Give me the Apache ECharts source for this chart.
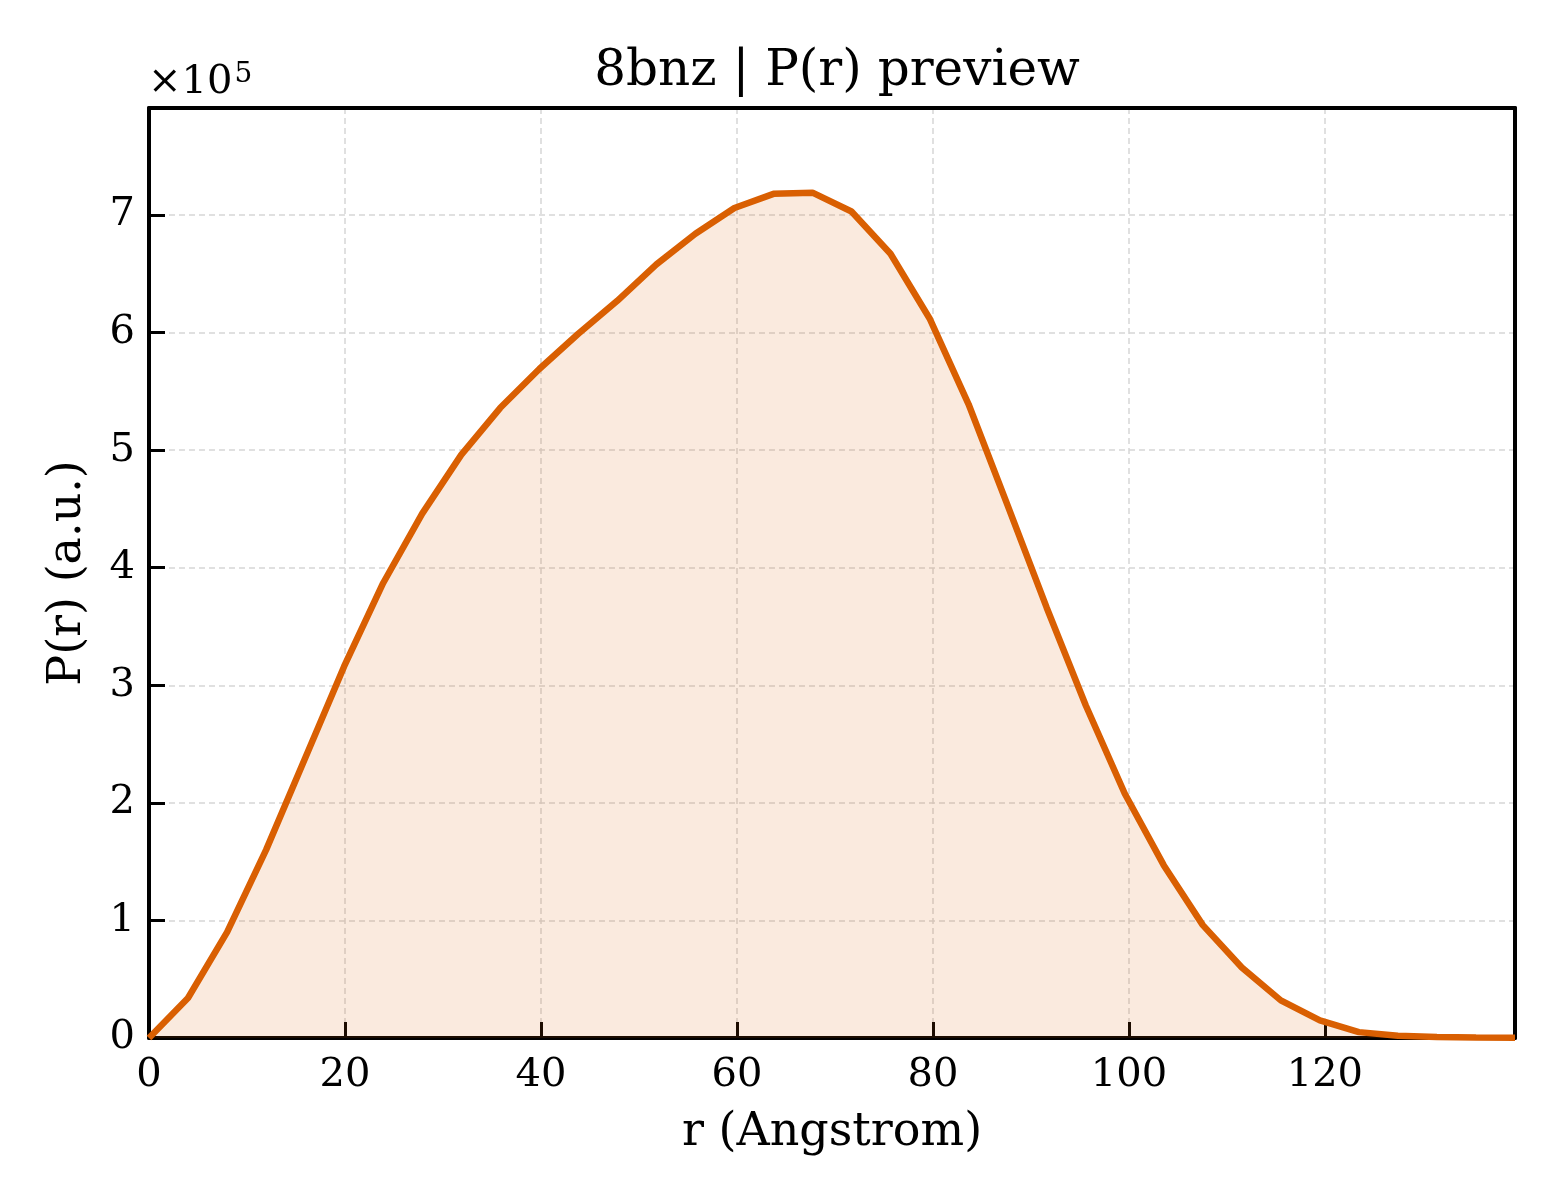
<!DOCTYPE html>
<html>
<head>
<meta charset="utf-8">
<script src="https://cdn.jsdelivr.net/npm/echarts@6/dist/echarts.min.js"></script>
<style>
  html, body { margin: 0; padding: 0; background: #fff; }
  #chart { width: 1560px; height: 1200px; }
</style>
</head>
<body>
<div id="chart"></div>
<script>
// r in Angstrom, P(r) in units of 1e5
const rValues = [0, 3.98, 7.97, 11.95, 15.93, 19.91, 23.90, 27.88, 31.86, 35.85,
  39.83, 43.81, 47.79, 51.78, 55.76, 59.74, 63.73, 67.71, 71.69, 75.67,
  79.66, 83.64, 87.62, 91.61, 95.59, 99.57, 103.55, 107.54, 111.52, 115.50,
  119.49, 123.47, 127.45, 131.43, 135.42, 139.40];
const prValues = [0, 0.34, 0.90, 1.60, 2.38, 3.16, 3.87, 4.46, 4.96, 5.36,
  5.69, 5.99, 6.27, 6.58, 6.84, 7.06, 7.18, 7.19, 7.03, 6.67,
  6.12, 5.39, 4.53, 3.66, 2.83, 2.08, 1.47, 0.96, 0.60, 0.32,
  0.15, 0.05, 0.02, 0.008, 0.004, 0.002];
const xTicks = [0, 20, 40, 60, 80, 100, 120];
const yTicks = [0, 1, 2, 3, 4, 5, 6, 7];

const font = 'DejaVu Serif';
const chart = echarts.init(document.getElementById('chart'));

function frameLine() {
    return { show: true, onZero: false, lineStyle: { color: '#000', width: 4 } };
}

const option = {
    animation: false,
    title: [
        {
            text: '8bnz | P(r) preview',
            left: 832, top: 42, textAlign: 'center',
            textStyle: { fontFamily: font, fontSize: 50, fontWeight: 'normal', color: '#000' }
        },
        {
            text: '{a|×10}{b|5}',
            left: 143, top: 56,
            textStyle: {
                fontFamily: font, fontWeight: 'normal', color: '#000',
                rich: {
                    a: { fontFamily: font, fontWeight: 'normal', fontSize: 40, lineHeight: 44, color: '#000' },
                    b: { fontFamily: font, fontWeight: 'normal', fontSize: 28, lineHeight: 44, verticalAlign: 'top', padding: [0, 0, 0, 2], color: '#000' }
                }
            }
        }
    ],
    grid: { left: 149, right: 45, top: 108, bottom: 162 },
    xAxis: [
        {
            type: 'value',
            min: 0, max: 139.4, interval: 20,
            name: 'r (Angstrom)', nameLocation: 'middle', nameGap: 72,
            nameTextStyle: { fontFamily: font, fontSize: 46, color: '#000' },
            axisLine: frameLine(),
            axisTick: { show: true, inside: true, length: 16, lineStyle: { color: '#000', width: 3 } },
            axisLabel: {
                fontFamily: font, fontSize: 40, color: '#000', margin: 18,
                showMaxLabel: false,
                formatter: v => xTicks.includes(v) ? String(v) : ''
            },
            splitLine: { show: true, lineStyle: { color: '#d6d6d6', width: 1.5, type: [6, 4] } }
        },
        {
            type: 'value', position: 'top',
            min: 0, max: 139.4,
            axisLine: frameLine(), axisTick: { show: false }, axisLabel: { show: false }, splitLine: { show: false }
        }
    ],
    yAxis: [
        {
            type: 'value',
            min: 0, max: 7.91, interval: 1,
            name: 'P(r) (a.u.)', nameLocation: 'middle', nameGap: 58,
            nameTextStyle: { fontFamily: font, fontSize: 46, color: '#000' },
            axisLine: frameLine(),
            axisTick: { show: true, inside: true, length: 16, lineStyle: { color: '#000', width: 3 } },
            axisLabel: {
                fontFamily: font, fontSize: 40, color: '#000', margin: 14,
                showMaxLabel: false,
                formatter: v => yTicks.includes(v) ? String(v) : ''
            },
            splitLine: { show: true, lineStyle: { color: '#d6d6d6', width: 1.5, type: [6, 4] } }
        },
        {
            type: 'value', position: 'right',
            min: 0, max: 7.91,
            axisLine: frameLine(), axisTick: { show: false }, axisLabel: { show: false }, splitLine: { show: false }
        }
    ],
    series: [
        {
            type: 'line',
            xAxisIndex: 0, yAxisIndex: 0,
            data: rValues.map((r, i) => [r, prValues[i]]),
            showSymbol: false,
            lineStyle: { color: '#d95f02', width: 6.5 },
            itemStyle: { color: '#d95f02' },
            areaStyle: { color: '#d95f02', opacity: 0.13 }
        }
    ]
};

chart.setOption(option);
window.addEventListener('resize', () => chart.resize());
</script>
</body>
</html>
